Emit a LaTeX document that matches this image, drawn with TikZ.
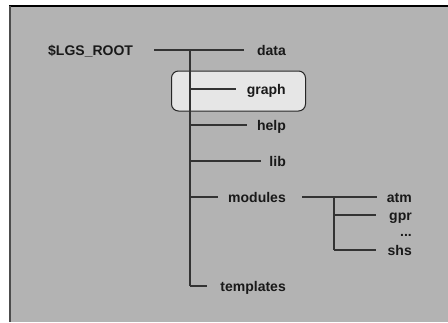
\documentclass[tikz,border=0pt]{standalone}
\usepackage{fontspec}
\setmainfont{Liberation Sans}
\definecolor{panel}{HTML}{B3B3B3}
\definecolor{boxfill}{HTML}{E6E6E6}

\tikzset{
  dir/.style={font=\bfseries\fontsize{14}{16}\selectfont, text=black!90,
    anchor=east, inner sep=0pt, text height=10pt, text depth=0pt},
  branch/.style={draw=black!80, line width=1.2pt},
  hilite/.style={draw=black!85, fill=boxfill, rounded corners=7pt, line width=1pt}
}

\begin{document}
\begin{tikzpicture}[x=1pt,y=-1pt]
  \useasboundingbox (0,0) rectangle (448,322);
  % panel
  \fill[panel] (9,6) rectangle (448,322);
  \draw[black, line width=1.5pt] (9,6) -- (448,6);
  \draw[black!70, line width=2pt] (10,6) -- (10,322);

  % highlighted entry
  \node[hilite, minimum width=134pt, minimum height=40pt] (graphbox) at (238.5,91) {};

  % top level
  \node[dir, anchor=west] (root) at (48,50) {\$LGS\_ROOT};
  \node[dir] (data) at (286,50) {data};
  \node[dir] (graph) at (286,89) {graph};
  \node[dir] (help) at (286,125) {help};
  \node[dir] (lib) at (286,161) {lib};
  \node[dir] (modules) at (286,197) {modules};
  \node[dir] (templates) at (286,286) {templates};

  % modules
  \node[dir] (atm) at (412,197) {atm};
  \node[dir] (gpr) at (412,215) {gpr};
  \node[dir] (dots) at (412,231) {...};
  \node[dir] (shs) at (412,250) {shs};

  \coordinate (top) at (190,50);
  \coordinate (sub) at (334,197);

  \draw[branch] ([xshift=21pt]root.east) -- ([xshift=-13pt]data.west);
  \draw[branch] (top) -- (top |- templates);
  \foreach \d/\g in {graph/11, help/10, lib/8, modules/10, templates/13}
    \draw[branch] (top |- \d) -- ([xshift=-\g pt]\d.west);

  \draw[branch] ([xshift=16pt]modules.east) -- ([xshift=-10pt]atm.west);
  \draw[branch] (sub) -- (sub |- shs);
  \foreach \d/\g in {gpr/13, shs/11}
    \draw[branch] (sub |- \d) -- ([xshift=-\g pt]\d.west);
\end{tikzpicture}
\end{document}
